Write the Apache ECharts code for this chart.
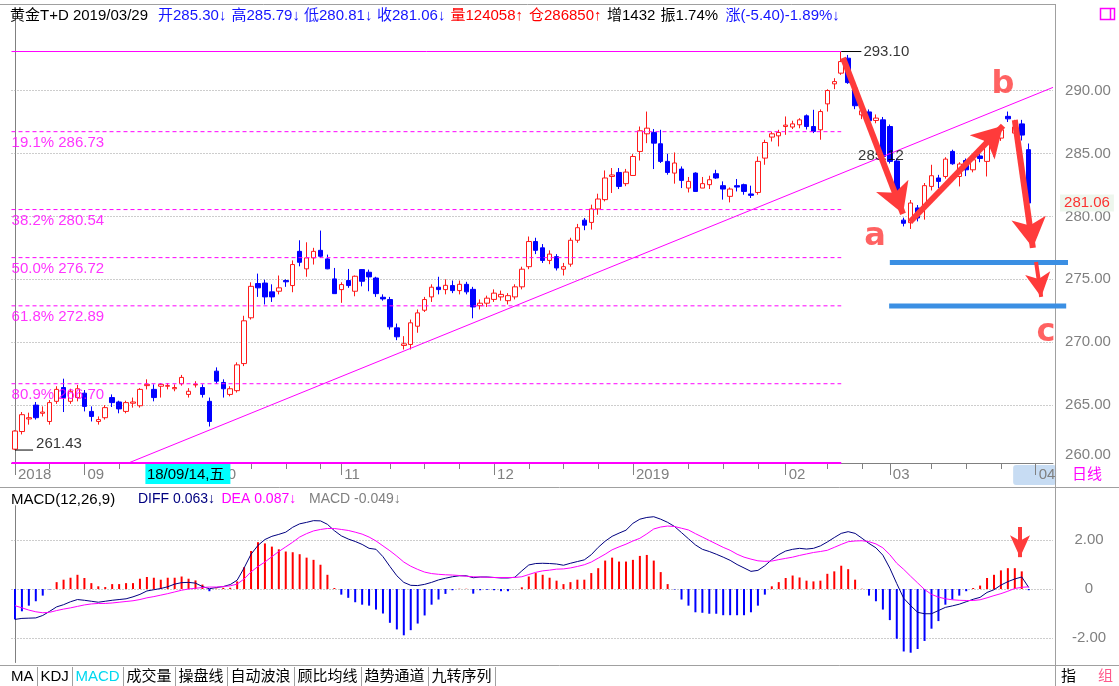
<!DOCTYPE html>
<html>
<head>
<meta charset="utf-8">
<title>黄金T+D</title>
<script src="https://cdn.jsdelivr.net/npm/echarts@6.0.0/dist/echarts.min.js"></script>
<style>
html,body{margin:0;padding:0;background:#fff;}
#chart{width:1119px;height:686px;}
</style>
</head>
<body>
<div id="chart"></div>
<script>
// ================= DATA =================
const tradingDays = [
  ['2018-08', [20,21,22,23,24,27,28,29,30,31]],
  ['2018-09', [3,4,5,6,7,10,11,12,13,14,17,18,19,20,21,25,26,27,28]],
  ['2018-10', [8,9,10,11,12,15,16,17,18,19,22,23,24,25,26,29,30,31]],
  ['2018-11', [1,2,5,6,7,8,9,12,13,14,15,16,19,20,21,22,23,26,27,28,29,30]],
  ['2018-12', [3,4,5,6,7,10,11,12,13,14,17,18,19,20,21,24,25,26,27,28]],
  ['2019-01', [2,3,4,7,8,9,10,11,14,15,16,17,18,21,22,23,24,25,28,29,30,31]],
  ['2019-02', [1,11,12,13,14,15,18,19,20,21,22,25,26,27,28]],
  ['2019-03', [1,4,5,6,7,8,11,12,13,14,15,18,19,20,21,22,25,26,27,28,29]],
  ['2019-04', [1,2,3]]            // empty slots after the last bar
];

// [open, close, low, high]
const ohlc = [
[261.50,262.94,261.43,263.00],[262.90,264.24,262.67,264.45],[263.90,264.00,263.45,264.40],[265.00,264.00,263.85,265.25],
[264.35,264.45,264.10,264.90],[263.70,265.20,263.45,265.40],[265.30,266.25,265.10,266.50],[266.40,265.60,264.45,267.10],
[265.30,266.10,265.10,266.30],[265.60,266.30,265.30,266.60],[265.95,264.90,264.50,266.20],[264.50,264.10,263.70,264.90],
[263.70,263.85,263.45,264.10],[264.00,264.80,263.85,265.00],[265.60,265.20,264.85,265.85],[265.25,264.70,264.35,265.35],
[264.50,265.20,264.35,265.35],[265.15,265.25,264.80,265.60],[264.95,266.25,264.80,266.35],[266.55,266.65,266.25,267.05],
[266.25,265.60,265.30,266.65],[266.50,266.65,265.60,266.75],[266.50,266.55,266.25,266.75],[266.30,266.40,266.10,266.65],
[266.70,267.20,266.55,267.40],[265.85,266.10,265.60,266.35],[266.60,266.65,266.40,266.90],[266.40,265.85,265.60,266.65],
[265.30,263.70,263.30,265.60],[267.70,266.90,266.70,268.00],[266.80,266.30,265.60,267.05],[265.85,266.30,265.70,266.50],
[266.15,268.20,266.00,268.40],[268.30,271.70,268.10,272.10],[271.94,274.44,271.80,274.76],[274.66,274.32,273.60,275.45],
[274.70,273.60,273.00,274.97],[274.00,273.60,273.20,274.60],[274.05,274.32,273.80,275.30],[274.90,274.80,274.40,275.00],
[274.50,276.17,273.97,276.50],[277.22,276.35,276.03,278.10],[275.83,276.70,275.20,277.94],[276.70,277.22,276.17,277.50],
[277.30,276.83,276.70,278.87],[276.62,275.83,275.80,276.96],[275.03,273.86,273.86,275.90],[274.18,274.58,273.13,274.76],
[274.90,274.50,274.32,275.82],[274.05,275.24,273.65,275.30],[275.77,274.84,274.44,275.80],[275.56,275.19,274.05,275.77],
[275.10,273.86,273.60,275.20],[273.57,273.44,273.30,273.80],[273.39,271.22,271.00,273.60],[271.14,270.43,270.16,271.48],
[269.74,269.87,269.42,270.48],[269.82,271.54,269.42,271.80],[271.27,272.33,270.75,272.60],[272.54,273.39,272.40,273.60],
[273.60,274.37,273.20,274.60],[274.37,274.18,273.80,275.20],[274.18,274.52,273.80,275.00],[274.50,274.10,273.90,274.90],
[274.10,274.60,273.80,274.90],[274.60,274.00,273.80,274.80],[274.20,272.80,271.90,274.40],[272.90,273.10,272.60,273.40],
[273.10,273.50,272.80,273.70],[273.40,273.90,273.20,274.20],[273.60,273.80,273.30,274.10],[273.30,273.70,273.00,273.90],
[273.60,274.40,273.40,274.60],[274.40,275.80,274.20,276.00],[276.00,278.00,275.80,278.40],[278.00,277.30,277.00,278.30],
[277.50,276.50,276.30,277.80],[276.50,277.00,276.20,277.30],[276.80,275.90,275.70,277.00],[275.80,276.00,275.30,276.30],
[276.20,278.10,276.00,278.30],[278.10,279.10,277.90,279.40],[279.70,279.30,278.90,279.87],[279.52,280.59,278.95,280.93],
[280.59,281.38,280.13,281.80],[281.33,283.05,281.19,283.65],[283.17,283.29,281.86,283.84],[283.49,282.38,282.17,283.84],
[282.60,283.52,282.40,283.77],[283.25,284.76,283.23,284.95],[285.16,286.80,284.44,287.14],[286.56,287.01,285.82,288.33],
[286.67,285.82,283.76,286.94],[285.77,284.37,284.24,286.88],[284.37,283.49,283.31,284.98],[283.44,284.24,282.60,285.08],
[283.76,282.86,282.25,283.97],[282.25,282.78,281.90,283.13],[283.44,281.98,281.98,283.50],[282.25,282.60,282.25,283.13],
[282.52,282.91,282.17,283.23],[283.39,283.05,282.98,283.70],[282.44,282.17,281.33,282.78],[281.59,282.17,281.11,282.30],
[282.44,282.33,281.98,282.97],[282.52,281.98,281.72,282.60],[281.78,281.67,281.46,282.44],[281.90,284.37,281.72,284.76],
[284.63,285.87,284.10,286.09],[286.30,286.56,285.95,286.72],[286.40,286.67,285.56,286.88],[287.14,287.25,286.48,287.94],
[287.10,287.35,286.94,287.60],[287.28,287.67,287.00,287.80],[287.99,287.14,286.90,288.10],[287.14,286.75,286.62,288.47],
[286.88,288.33,286.09,288.50],[288.94,290.00,288.33,290.10],[290.53,290.71,290.11,290.98],[291.38,292.30,291.25,293.10],
[292.57,290.63,290.53,292.83],[290.19,288.79,288.52,290.40],[288.07,288.39,287.73,288.79],[288.30,287.60,286.90,288.50],
[287.62,287.81,287.40,288.10],[287.67,284.76,284.60,287.90],[287.14,284.37,284.20,287.30],[284.40,281.00,280.80,284.60],
[279.70,279.45,279.20,279.90],[279.50,281.06,279.00,281.30],[280.67,279.87,279.60,280.90],[280.79,282.44,279.74,282.65],
[282.38,283.23,282.06,284.10],[283.05,282.78,282.25,283.30],[283.17,284.55,283.00,284.70],[285.16,284.18,284.10,285.30],
[283.17,284.16,282.38,284.30],[284.44,283.70,283.20,284.60],[283.70,284.50,283.50,284.70],[284.80,284.60,284.30,285.00],
[284.37,286.35,283.17,286.45],[286.48,285.69,284.76,286.60],[286.22,286.88,286.00,287.00],[287.95,287.75,287.50,288.33],
[286.62,287.10,286.50,287.67],[287.35,286.46,286.03,287.67],[285.30,281.06,280.81,285.79]
];

const diffLine = [
-1.24,-1.20,-1.19,-1.18,-1.08,-0.91,-0.73,-0.64,-0.52,-0.43,
-0.46,-0.50,-0.54,-0.50,-0.46,-0.43,-0.40,-0.32,-0.22,-0.08,
-0.03,0.02,0.09,0.20,0.26,0.27,0.24,0.10,0.01,0.06,
0.10,0.18,0.36,0.86,1.42,1.78,2.02,2.15,2.23,2.32,
2.52,2.66,2.72,2.79,2.78,2.64,2.38,2.17,2.04,1.94,
1.82,1.66,1.62,1.32,0.92,0.54,0.27,0.15,0.14,0.19,
0.27,0.37,0.44,0.50,0.54,0.54,0.46,0.49,0.49,0.47,
0.45,0.45,0.48,0.74,0.98,1.04,1.05,1.04,1.02,0.97,
1.05,1.12,1.19,1.40,1.70,1.95,2.15,2.28,2.40,2.68,
2.85,2.92,2.95,2.85,2.72,2.55,2.30,2.05,1.80,1.62,
1.53,1.42,1.30,1.17,1.00,0.86,0.72,0.76,0.95,1.20,
1.40,1.55,1.62,1.66,1.63,1.66,1.76,1.92,2.10,2.27,
2.34,2.27,2.07,1.86,1.68,1.38,0.85,0.22,-0.38,-0.68,
-0.95,-1.01,-1.01,-0.88,-0.75,-0.69,-0.62,-0.52,-0.42,-0.34,
-0.14,-0.03,0.16,0.30,0.41,0.49,0.063
];

const deaLine = [
-0.68,-0.77,-0.86,-0.93,-0.97,-0.95,-0.88,-0.82,-0.77,-0.71,
-0.65,-0.61,-0.59,-0.59,-0.57,-0.54,-0.51,-0.48,-0.43,-0.36,
-0.31,-0.25,-0.19,-0.12,-0.05,0.00,0.03,0.06,0.08,0.08,
0.10,0.13,0.20,0.41,0.70,0.92,1.10,1.32,1.53,1.72,
1.91,2.12,2.26,2.37,2.43,2.47,2.47,2.43,2.39,2.32,
2.24,2.12,1.96,1.76,1.56,1.34,1.10,0.93,0.80,0.69,
0.63,0.60,0.58,0.57,0.55,0.52,0.50,0.49,0.48,0.47,
0.47,0.47,0.47,0.50,0.59,0.68,0.74,0.77,0.81,0.82,
0.86,0.92,0.99,1.10,1.26,1.42,1.60,1.72,1.83,1.96,
2.07,2.25,2.45,2.53,2.57,2.55,2.48,2.41,2.26,2.12,
1.98,1.84,1.70,1.58,1.42,1.30,1.22,1.15,1.13,1.14,
1.20,1.25,1.30,1.37,1.43,1.49,1.53,1.58,1.70,1.82,
1.93,1.96,1.97,1.93,1.84,1.68,1.40,1.05,0.80,0.52,
0.25,-0.02,-0.22,-0.33,-0.40,-0.44,-0.46,-0.47,-0.47,-0.44,
-0.36,-0.27,-0.19,-0.09,0.02,0.07,0.087
];

const macdBars = [
-1.24,-0.91,-0.68,-0.50,-0.27,-0.02,0.28,0.38,0.46,0.58,
0.45,0.24,0.11,0.08,0.20,0.20,0.24,0.24,0.42,0.49,
0.46,0.38,0.46,0.46,0.51,0.42,0.35,0.18,-0.09,0.02,
0.05,0.05,0.31,0.89,1.55,1.91,1.86,1.73,1.62,1.53,
1.50,1.42,1.28,1.19,0.99,0.58,0.04,-0.23,-0.36,-0.54,
-0.64,-0.68,-0.84,-1.00,-1.38,-1.65,-1.89,-1.68,-1.41,-1.08,
-0.64,-0.43,-0.20,-0.05,0.01,0.01,-0.19,-0.05,-0.03,-0.05,
-0.09,-0.09,0.00,0.07,0.51,0.65,0.58,0.46,0.34,0.20,
0.28,0.38,0.38,0.65,0.85,1.16,1.28,1.12,1.12,1.19,
1.35,1.39,1.16,0.69,0.20,-0.02,-0.43,-0.68,-0.95,-0.97,
-1.01,-1.01,-1.07,-1.07,-1.07,-1.07,-0.95,-0.68,-0.23,0.11,
0.28,0.45,0.55,0.47,0.34,0.31,0.34,0.62,0.72,0.95,
0.81,0.38,0.01,-0.27,-0.50,-0.84,-1.27,-2.03,-2.55,-2.60,
-2.45,-2.12,-1.62,-1.31,-0.64,-0.43,-0.27,-0.09,0.04,0.14,
0.45,0.58,0.76,0.85,0.85,0.72,-0.049
];

const priceTicks = [265, 270, 275, 280, 285, 290];
const macdTicks = [-2, 0, 2];
const fibPct = ['19.1%', '38.2%', '50.0%', '61.8%', '80.9%'];
const fibLevels = [286.73, 280.54, 276.72, 272.89, 266.70];
const fibBase = 260.40;                  // 100% level
const targetLevels = [276.33, 272.88];   // blue target lines
const trendPoints = [[16.56, 260.45], [149.5, 290.25]];
const quoteVolume = 124058, quoteOI = 286850, quoteOIChg = 1432;
const quoteAmp = 1.74, quoteChg = -5.40, quoteChgPct = -1.89;
const crossDate = '2018-09-14';

// ================= HELPERS =================
const FONT = '"Liberation Sans", Arial, "Noto Sans CJK SC", sans-serif';
const GRAY = '#808080';
const MAG = '#ff00ff';
const RED_ARROW = '#ff3b3b';
const cats = [];
tradingDays.forEach(([ym, days]) => days.forEach(d => cats.push(ym + '-' + String(d).padStart(2, '0'))));
const N = cats.length;
const monthStart = cats.map((d, i) => i === 0 || d.slice(0, 7) !== cats[i - 1].slice(0, 7));
const monthText = cats.map((d, i) => !monthStart[i] ? '' : (i === 0 || d.slice(5, 7) === '01') ? d.slice(0, 4) : d.slice(5, 7));
function weekKey(d) { const t = new Date(d + 'T00:00:00Z'); return Math.floor(t.getTime() / 86400000) - (t.getUTCDay() + 6) % 7; }
let lastMonth = -99;
const weekTick = cats.map((d, i) => {
  if (monthStart[i]) { lastMonth = i; return false; }
  return i > 0 && weekKey(d) !== weekKey(cats[i - 1]) && (i - lastMonth) >= 5;
});
let hiIdx = 0, loIdx = 0;
ohlc.forEach((r, i) => { if (r[3] > ohlc[hiIdx][3]) hiIdx = i; if (r[2] < ohlc[loIdx][2]) loIdx = i; });
const swingHigh = ohlc[hiIdx][3], swingLow = ohlc[loIdx][2];
const last = ohlc[ohlc.length - 1];
const lastIdx = ohlc.length - 1;

// plain straight segment drawn as a line series on the overlay value axes
function segLine(points, ls, z) {
  return { type: 'line', xAxisIndex: 2, yAxisIndex: 0, data: points, symbol: 'none', clip: false, silent: true,
           z: z || 4, lineStyle: ls, emphasis: { disabled: true } };
}
// markLine-only series (used for arrows and grid lines)
function overlay(xi, yi, ls, items, extra) {
  return {
    type: 'line', xAxisIndex: xi, yAxisIndex: yi, data: [], clip: false, silent: true, z: 4,
    markLine: Object.assign({ silent: true, symbol: ['none', 'none'], z: 4, label: { show: false },
      lineStyle: ls, emphasis: { disabled: true }, data: items }, extra || {})
  };
}
function seg(a, b) { return [{ coord: a }, { coord: b }]; }
// text placed at a data coordinate
function textAt(xi, yi, items, z) {
  return { type: 'scatter', xAxisIndex: xi, yAxisIndex: yi, silent: true, clip: false, z: z || 5, symbolSize: 0.1,
           itemStyle: { color: 'transparent' }, emphasis: { disabled: true }, data: items };
}

const chart = echarts.init(document.getElementById('chart'), null, { renderer: 'canvas' });

const series = [
  // price grid lines
  overlay(0, 0, { type: [1, 2], color: '#9a9a9a', width: 1 }, priceTicks.map(v => ({ yAxis: v })), { z: 1 }),
  // candles
  { type: 'candlestick', name: '黄金T+D', xAxisIndex: 0, yAxisIndex: 0, data: ohlc, barWidth: 5, z: 3,
    itemStyle: { color: '#ffffff', color0: '#0000ff', borderColor: '#ff1a1a', borderColor0: '#0000ff', borderWidth: 1 } },
  // trend line
  segLine(trendPoints, { color: MAG, width: 1 }),
  // 0% and 100% lines
  segLine([[-0.5, swingHigh], [hiIdx, swingHigh]], { color: MAG, width: 1, type: 'solid' }),
  segLine([[-0.5, fibBase], [hiIdx, fibBase]], { color: MAG, width: 2, type: 'solid' }),
  // extreme markers
  segLine([[hiIdx, swingHigh], [hiIdx + 2.9, swingHigh]], { color: '#000', width: 1, type: 'solid' }, 5),
  segLine([[loIdx, swingLow], [loIdx + 2.6, swingLow]], { color: '#000', width: 1, type: 'solid' }, 5),
  textAt(2, 0, [
    { value: [hiIdx + 2.9, swingHigh], label: { show: true, position: 'right', distance: 2, formatter: swingHigh.toFixed(2), color: '#000', fontSize: 15, fontFamily: FONT } },
    { value: [loIdx + 2.6, swingLow], label: { show: true, position: 'right', distance: 3, offset: [0, -6], formatter: swingLow.toFixed(2), color: '#000', fontSize: 15, fontFamily: FONT } },
    { value: [120.7, 284.82], label: { show: true, position: 'right', distance: 5, formatter: '285.12', color: '#000', fontSize: 15, fontFamily: FONT } },
    { value: [N - 0.5, last[1]], label: { show: true, position: 'right', distance: 7, formatter: last[1].toFixed(2), color: '#ff0000', fontSize: 15,
        fontFamily: FONT, backgroundColor: '#e8f4e8', padding: [1, 4, 1, 4] } }
  ]),
  // fib captions
  textAt(2, 0, fibLevels.map((v, k) => ({ value: [-0.5, v],
    label: { show: true, position: 'right', distance: 0, offset: [0, 11], formatter: fibPct[k] + ' ' + v.toFixed(2), color: MAG, fontSize: 15, fontFamily: FONT } })))
];
// fibonacci dashed levels
fibLevels.forEach(v => series.push(segLine([[-0.5, v], [hiIdx, v]], { color: MAG, width: 1, type: [4, 3] })));
series.push(
  // red hand-drawn arrows
  overlay(2, 0, { type: 'solid', color: RED_ARROW, width: 6 }, [
    seg([119.26, 292.59], [127.9, 280.2]),
    seg([128.9, 279.55], [142.3, 287.2]),
    seg([144.0, 287.66], [146.6, 277.5])
  ], { symbol: ['none', 'arrow'], symbolSize: [26, 30], z: 8 }),
  overlay(2, 0, { type: 'solid', color: RED_ARROW, width: 4 }, [
    seg([147.06, 276.37], [147.8, 273.6])
  ], { symbol: ['none', 'arrow'], symbolSize: [19, 24], z: 8 }),
  // letters
  textAt(2, 0, [
    { value: [123.87, 278.4], label: { formatter: 'a' } },
    { value: [142.3, 290.44], label: { formatter: 'b' } },
    { value: [148.5, 270.77], label: { formatter: 'c' } }
  ].map(d => Object.assign(d, { label: Object.assign({ show: true, position: 'inside', color: RED_ARROW, fontSize: 32, fontWeight: 'bold',
       fontFamily: '"DejaVu Sans", sans-serif' }, d.label) })), 9),
  // MACD
  overlay(3, 1, { type: [1, 2], color: '#9a9a9a', width: 1 }, macdTicks.map(v => ({ yAxis: v })), { z: 1 }),
  { type: 'bar', name: 'MACD', xAxisIndex: 3, yAxisIndex: 1, data: macdBars, barWidth: 2, z: 2,
    itemStyle: { color: (p) => p.value >= 0 ? '#ff0000' : '#0000ff' } },
  { type: 'line', name: 'DIFF', xAxisIndex: 3, yAxisIndex: 1, data: diffLine, symbol: 'none', z: 3,
    lineStyle: { color: '#000080', width: 1 } },
  { type: 'line', name: 'DEA', xAxisIndex: 3, yAxisIndex: 1, data: deaLine, symbol: 'none', z: 3,
    lineStyle: { color: MAG, width: 1 } },
  overlay(4, 1, { type: 'solid', color: RED_ARROW, width: 4 }, [seg([144.75, 2.53], [144.75, 1.3])],
    { symbol: ['none', 'arrow'], symbolSize: [15, 22], z: 8 })
);

const option = {
  animation: false,
  backgroundColor: '#ffffff',
  textStyle: { fontFamily: FONT },
  grid: [
    { left: 11.5, top: 10, width: 1041.5, height: 453 },
    { left: 11.5, top: 505.7, width: 1041.5, height: 156.8 }
  ],
  xAxis: [
    { type: 'category', gridIndex: 0, data: cats, boundaryGap: true,
      axisLine: { show: true, lineStyle: { color: GRAY } },
      axisTick: { show: true, alignWithLabel: true, interval: (i) => monthStart[i], length: 12, lineStyle: { color: GRAY } },
      axisLabel: { interval: (i) => monthStart[i], formatter: (v, i) => monthText[i], align: 'left', padding: [0, 0, 0, 3],
                   color: GRAY, fontSize: 15, margin: 4, fontFamily: FONT },
      splitLine: { show: false } },
    { type: 'category', gridIndex: 0, data: cats, boundaryGap: true, position: 'bottom',
      axisLine: { show: false }, axisLabel: { show: false }, splitLine: { show: false },
      axisTick: { show: true, alignWithLabel: true, interval: (i) => weekTick[i], length: 6, lineStyle: { color: GRAY } } },
    { type: 'value', gridIndex: 0, min: -0.5, max: N - 0.5, show: false },
    { type: 'category', gridIndex: 1, data: cats, boundaryGap: true, show: false },
    { type: 'value', gridIndex: 1, min: -0.5, max: N - 0.5, show: false }
  ],
  yAxis: [
    { type: 'value', gridIndex: 0, position: 'right', offset: 2, min: fibBase, max: 296.4,
      axisLine: { show: true, lineStyle: { color: GRAY } }, axisTick: { show: false }, splitLine: { show: false },
      axisLabel: { customValues: priceTicks, formatter: (v) => v.toFixed(2), color: GRAY, fontSize: 15, align: 'center', margin: 33, fontFamily: FONT } },
    { type: 'value', gridIndex: 1, position: 'right', offset: 2, min: -3, max: 3.4,
      axisLine: { show: true, lineStyle: { color: GRAY } }, axisTick: { show: false }, splitLine: { show: false },
      axisLabel: { customValues: macdTicks, formatter: (v) => v === 0 ? '0' : v.toFixed(2), color: GRAY, fontSize: 15, align: 'center', margin: 34, fontFamily: FONT } }
  ],
  series: series
};
chart.setOption(option);

// ================= DECORATION (layout / text) =================
const G = [];
function gline(x1, y1, x2, y2, color, w, z) {
  G.push({ type: 'line', silent: true, z: z || 0, shape: { x1, y1, x2, y2 }, style: { stroke: color || '#a0a0a0', lineWidth: w || 1 } });
}
function gtext(x, y, str, color, align, z, size) {
  G.push({ type: 'text', silent: true, z: z || 10, x, y,
    style: { text: str, fill: color || '#000', font: (size || 15) + 'px ' + FONT,
             align: align || 'left', textAlign: align || 'left', verticalAlign: 'middle', textVerticalAlign: 'middle' } });
}
// blue target lines (they run past the plot edge, so drawn from converted coordinates)
targetLevels.forEach((v, k) => {
  const p1 = chart.convertToPixel({ xAxisIndex: 2, yAxisIndex: 0 }, [k === 0 ? 126.0 : 125.9, v]);
  const p2 = chart.convertToPixel({ xAxisIndex: 2, yAxisIndex: 0 }, [k === 0 ? 151.66 : 151.4, v]);
  gline(p1[0], p1[1], p2[0], p2[1], '#3b8fe3', 5, 7);
});
// frame lines
gline(0, 4.5, 1055, 4.5, '#a0a0a0');
gline(1055.5, 4, 1055.5, 686, '#a0a0a0');
gline(0, 487.5, 1119, 487.5, '#a0a0a0');
gline(0, 665.5, 1119, 665.5, '#a0a0a0');

// header
const hY = 16;
gtext(10, hY, '黄金T+D ' + cats[lastIdx].replace(/-/g, '/'), '#000');
gtext(158, hY, '开' + last[0].toFixed(2) + '↓', '#1414ff');
gtext(231.5, hY, '高' + last[3].toFixed(2) + '↓', '#1414ff');
gtext(304, hY, '低' + last[2].toFixed(2) + '↓', '#1414ff');
gtext(377, hY, '收' + last[1].toFixed(2) + '↓', '#1414ff');
gtext(450.5, hY, '量' + quoteVolume + '↑', '#ff0000');
gtext(529, hY, '仓' + quoteOI + '↑', '#ff0000');
gtext(607, hY, '增' + quoteOIChg, '#000');
gtext(660.6, hY, '振' + quoteAmp.toFixed(2) + '%', '#000');
gtext(725.6, hY, '涨(' + quoteChg.toFixed(2) + ')' + quoteChgPct.toFixed(2) + '%↓', '#1414ff');
// top-right icon
G.push({ type: 'rect', silent: true, shape: { x: 1100.5, y: 8.5, width: 14, height: 11 }, style: { fill: 'none', stroke: MAG, lineWidth: 1.5 } });
gline(1110.5, 8.5, 1110.5, 19.5, MAG, 1.5);

// price axis bottom label
gtext(1088, 455, (260).toFixed(2), GRAY, 'center');
gtext(1072, 475, '日线', MAG);

// crosshair date box
const cx = chart.convertToPixel({ xAxisIndex: 0 }, crossDate);
G.push({ type: 'rect', silent: true, z: 50, shape: { x: cx - 1.5, y: 464, width: 85, height: 20 }, style: { fill: '#00ffff' } });
const dd = new Date(crossDate + 'T00:00:00Z');
gtext(cx, 474.5, crossDate.slice(2).replace(/-/g, '/') + ',' + '日一二三四五六'[dd.getUTCDay()], '#000', 'left', 51);
// current period highlight behind the "04" label
const ax4 = chart.convertToPixel({ xAxisIndex: 0 }, cats[lastIdx + 1]);
G.push({ type: 'rect', silent: true, z: -1, shape: { x: ax4 - 22.5, y: 465, width: 43, height: 20, r: 3 }, style: { fill: '#c7dcf3' } });

// MACD caption
const mY = 499.5;
gtext(11, mY, 'MACD(12,26,9)', '#000');
gtext(138, mY, 'DIFF ' + diffLine[lastIdx].toFixed(3) + '↓', '#000080', 'left', 10, 14);
gtext(221.5, mY, 'DEA ' + deaLine[lastIdx].toFixed(3) + '↓', MAG, 'left', 10, 14);
gtext(309, mY, 'MACD ' + macdBars[lastIdx].toFixed(3) + '↓', GRAY, 'left', 10, 14);

// bottom toolbar
const tabs = ['MA', 'KDJ', 'MACD', '成交量', '操盘线', '自动波浪', '顾比均线', '趋势通道', '九转序列'];
const ctx = document.createElement('canvas').getContext('2d');
ctx.font = '15px ' + FONT;
let tx = 11;
tabs.forEach(t => {
  gtext(tx, 676.5, t, t === 'MACD' ? '#00d8f0' : '#000');
  const w = ctx.measureText(t).width;
  const sx = Math.round(tx + w + 3) + 0.5;
  gline(sx, 667, sx, 686, '#a0a0a0');
  tx = sx + 3;
});
gtext(1061, 676.5, '指', '#000');
gtext(1098, 676.5, '组', '#ff5a8c');

chart.setOption({ graphic: { elements: G } });
</script>
</body>
</html>
